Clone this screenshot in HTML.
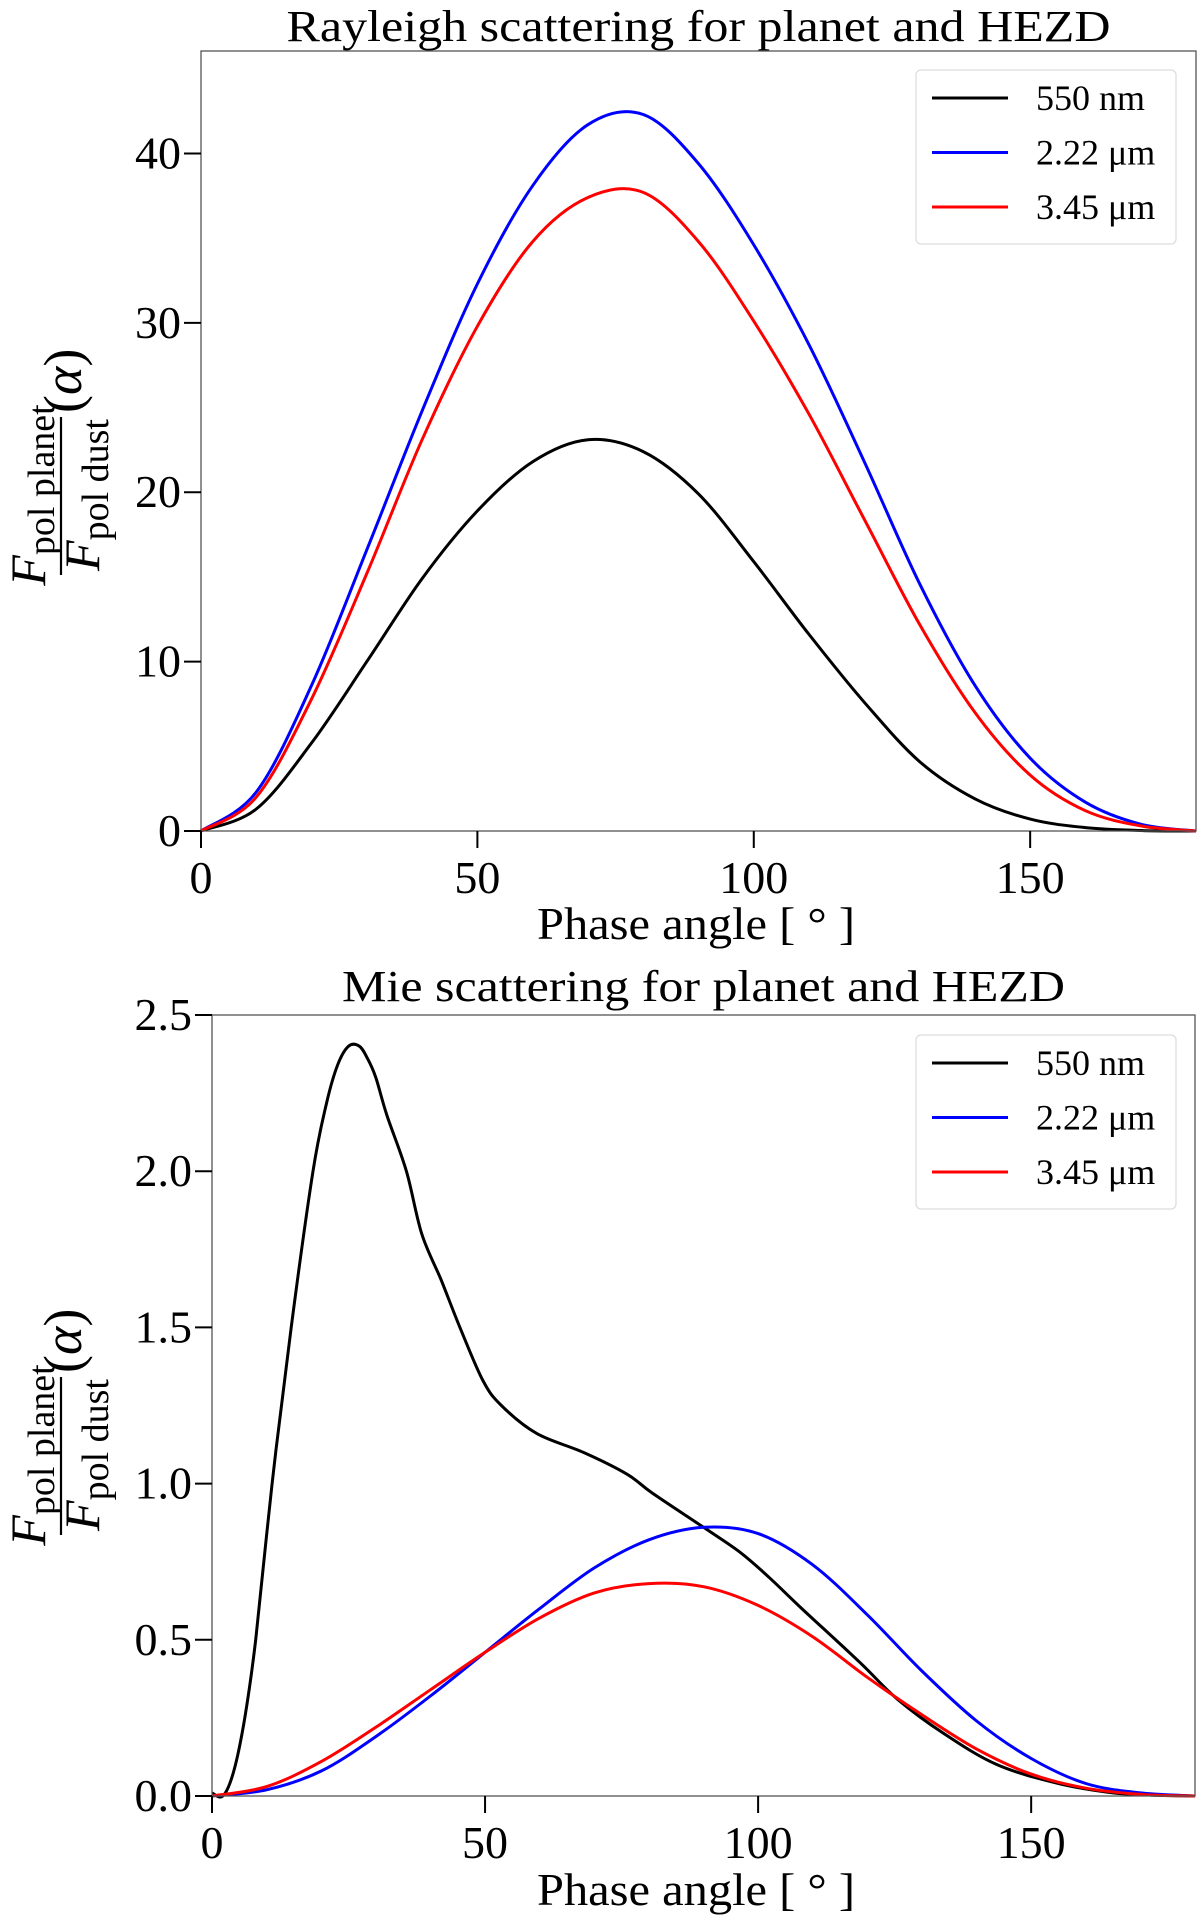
<!DOCTYPE html>
<html><head><meta charset="utf-8"><style>
html,body{margin:0;padding:0;background:#fff;}
svg{display:block;font-family:"Liberation Serif","DejaVu Serif",serif;}
</style></head><body>
<svg id="fig" width="1200" height="1923" viewBox="0 0 1200 1923" xmlns="http://www.w3.org/2000/svg"></svg>
<script>
// ---- Rayleigh (top) data ----
const rayAngles = [0,10,20,30,40,50,60,70,80,90,100,110,120,130,140,150,160,170,180];
const ray550 = [0,1.3,5.2,10.0,14.9,18.9,21.8,23.1,22.4,19.9,15.9,11.6,7.6,4.1,1.9,0.7,0.2,0.03,0];
const ray222 = [0,2.3,8.6,16.6,24.8,32.3,38.1,41.7,42.3,39.4,34.6,28.7,21.8,14.6,8.6,4.3,1.7,0.4,0];
const ray345 = [0,2.0,7.8,15.2,23.1,29.8,34.8,37.4,37.7,34.8,30.1,24.6,18.4,12.2,7.0,3.3,1.2,0.3,0];
const rayYTicks = [0,10,20,30,40];
const rayYLabels = ["0","10","20","30","40"];
// ---- Mie (bottom) data ----
const mieAngles550 = [0,2,4,6,8,11,14.5,18.5,21,23,25,27,28.5,30,32,35.6,38.4,42,45.4,49.6,53,59.5,68,76,80.6,90,96.7,102,108,118.5,125.5,134,143.8,155,165,172,180];
const mie550 = [0.01,0.0,0.08,0.25,0.5,1.0,1.5,2.0,2.22,2.34,2.4,2.4,2.36,2.3,2.18,2.0,1.8,1.65,1.5,1.33,1.25,1.16,1.1,1.03,0.97,0.86,0.78,0.7,0.6,0.43,0.31,0.2,0.1,0.04,0.01,0.003,0];
const mieAngles = [0,10,20,30,40,50,60,70,80,90,100,110,120,130,140,150,160,170,180];
const mie222 = [0,0.02,0.08,0.19,0.32,0.46,0.6,0.73,0.82,0.86,0.84,0.74,0.58,0.40,0.24,0.12,0.04,0.01,0];
const mie345 = [0,0.03,0.11,0.22,0.34,0.46,0.57,0.65,0.68,0.67,0.61,0.51,0.38,0.26,0.15,0.07,0.025,0.005,0];
const mieYTicks = [0,0.5,1.0,1.5,2.0,2.5];
const mieYLabels = ["0.0","0.5","1.0","1.5","2.0","2.5"];
const xTicks = [0,50,100,150];
const xLabels = ["0","50","100","150"];
const seriesNames = ["550 nm","2.22 μm","3.45 μm"];
const seriesColors = ["#000","#0000ff","#ff0000"];

const NS="http://www.w3.org/2000/svg";
const svg=document.getElementById('fig');
function el(tag,attrs,parent){const e=document.createElementNS(NS,tag);for(const k in attrs)e.setAttribute(k,attrs[k]);(parent||svg).appendChild(e);return e;}
function smoothPath(pts){
  let d="M"+pts[0][0].toFixed(1)+","+pts[0][1].toFixed(1);
  for(let i=0;i<pts.length-1;i++){
    const p0=pts[Math.max(i-1,0)],p1=pts[i],p2=pts[i+1],p3=pts[Math.min(i+2,pts.length-1)];
    const c1=[p1[0]+(p2[0]-p0[0])/6,p1[1]+(p2[1]-p0[1])/6];
    const c2=[p2[0]-(p3[0]-p1[0])/6,p2[1]-(p3[1]-p1[1])/6];
    d+="C"+c1[0].toFixed(1)+","+c1[1].toFixed(1)+" "+c2[0].toFixed(1)+","+c2[1].toFixed(1)+" "+p2[0].toFixed(1)+","+p2[1].toFixed(1);
  }
  return d;
}
function drawChart(o){
  const g=el('g',{});
  
  
  const xs=v=>o.x0+(v-0)/(180-0)*(o.x1-o.x0);
  const ys=v=>o.y0-(v-0)/(o.yMax-0)*(o.y0-o.y1);
  const t=el('text',{x:(o.x0+o.x1)/2,y:o.titleY,'text-anchor':'middle','font-size':44,textLength:o.titleW,lengthAdjust:'spacingAndGlyphs'},g);
  t.textContent=o.title;
  
  
  o.series.forEach((s,i)=>{
    const pts=s.x.map((a,j)=>[xs(a),ys(s.y[j])]);
    const p=el('path',{d:smoothPath(pts),fill:'none',stroke:seriesColors[i],'stroke-width':3,'stroke-linejoin':'round'},g);
    
    
  });
  const fr=el('rect',{x:o.x0,y:o.y1,width:o.x1-o.x0,height:o.y0-o.y1,fill:'none',stroke:'#555','stroke-width':1.3},g);
  
  
  o.yTicks.forEach((v,i)=>{
    const y=ys(v);
    el('line',{x1:o.x0-17,x2:o.x0,y1:y,y2:y,stroke:'#000','stroke-width':2},g);
    const tl=el('text',{x:o.x0-20,y:y+15,'text-anchor':'end','font-size':46},g);
    tl.textContent=o.yLabels[i];
    
    
  });
  xTicks.forEach((v,i)=>{
    const x=xs(v);
    el('line',{x1:x,x2:x,y1:o.y0,y2:o.y0+17,stroke:'#000','stroke-width':2},g);
    const tl=el('text',{x:x,y:o.y0+62,'text-anchor':'middle','font-size':46},g);
    tl.textContent=xLabels[i];
    
    
  });
  const xl=el('text',{x:696,y:o.xlabY,'text-anchor':'middle','font-size':46,textLength:318,lengthAdjust:'spacingAndGlyphs'},g);
  xl.textContent="Phase angle [ ° ]";
  
  
  const yg=el('g',{transform:`translate(65,${o.ylabC}) rotate(-90)`},g);
  
  
  const num=el('text',{x:-50,y:-20,'text-anchor':'middle','font-size':50},yg);
  num.innerHTML='<tspan font-style="italic">F</tspan><tspan font-size="38" dy="9">pol planet</tspan>';
  el('line',{x1:-130,x2:28,y1:-4,y2:-4,stroke:'#000','stroke-width':2.2},yg);
  const den=el('text',{x:-50,y:34,'text-anchor':'middle','font-size':50},yg);
  den.innerHTML='<tspan font-style="italic">F</tspan><tspan font-size="38" dy="9">pol dust</tspan>';
  const al=el('text',{x:32,y:16,'font-size':54},yg);
  al.innerHTML='(<tspan font-style="italic">α</tspan>)';
  const lg=el('g',{},g);
  
  
  el('rect',{x:916,y:o.legY,width:260,height:174,rx:5,fill:'#fff',stroke:'#ddd','stroke-width':1.3},lg);
  seriesNames.forEach((n,i)=>{
    const yy=o.legY+28+i*54.5;
    el('line',{x1:932,x2:1008,y1:yy,y2:yy,stroke:seriesColors[i],'stroke-width':3},lg);
    const lt=el('text',{x:1036,y:yy+12,'font-size':36},lg);
    lt.textContent=n;
    
    
  });
}
drawChart({name:'rayleigh-chart',title:'Rayleigh scattering for planet and HEZD',titleW:824,titleY:41,
  x0:201,x1:1196,y0:831,y1:51,yMax:46.05,yTicks:rayYTicks,yLabels:rayYLabels,xlabY:939,ylabC:445,legY:70,
  series:[{x:rayAngles,y:ray550},{x:rayAngles,y:ray222},{x:rayAngles,y:ray345}]});
drawChart({name:'mie-chart',title:'Mie scattering for planet and HEZD',titleW:723,titleY:1001,
  x0:212,x1:1195,y0:1796,y1:1015,yMax:2.5,yTicks:mieYTicks,yLabels:mieYLabels,xlabY:1905,ylabC:1405,legY:1035,
  series:[{x:mieAngles550,y:mie550},{x:mieAngles,y:mie222},{x:mieAngles,y:mie345}]});
</script>
</body></html>
